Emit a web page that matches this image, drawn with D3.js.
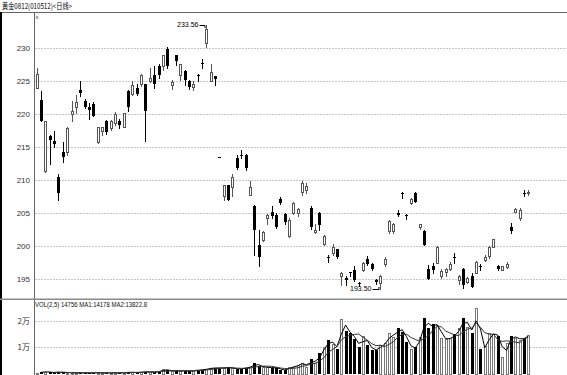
<!DOCTYPE html>
<html>
<head>
<meta charset="utf-8">
<script src="https://cdn.jsdelivr.net/npm/d3@7"></script>
<style>
  body { margin: 0; background: #fff; }
  svg { display: block; }
  text { font-family: "Liberation Sans", Arial, sans-serif; }
</style>
</head>
<body>
<div id="chart"></div>
<script>
const title = '黄金0812(010512)<日线>';
const volTitle = 'VOL(2,5) 14756 MA1:14178 MA2:13822.8';

const opens = [
  224.0, 222.1, 211.3, 216.6, 215.9, 210.5, 214.2, 214.2, 220.0, 221.0,
  223.6, 221.9, 221.0, 221.5, 215.8, 217.4, 219.0, 217.9, 218.6, 218.9,
  218.1, 223.5, 223.0, 224.0, 224.6, 224.5, 225.0, 225.9, 227.3, 227.2,
  229.9, 224.4, 228.9, 225.9, 226.5, 225.0, 224.1, 225.9, 227.7, 230.7,
  225.0, 225.7, 213.5, 207.5, 209.2, 209.0, 213.4, 213.8, 213.8, 207.8,
  206.0, 200.2, 200.9, 204.2, 205.2, 204.7, 207.1, 204.8, 201.5, 205.0,
  205.0, 208.2, 208.5, 205.7, 202.1, 205.0, 200.3, 198.4, 198.9, 199.5,
  195.5, 195.1, 196.0, 196.4, 194.4, 196.4, 198.1, 197.3, 194.8, 194.4,
  197.3, 202.2, 202.3, 205.0, 208.1, 204.7, 206.5, 208.1, 202.9, 202.3,
  196.5, 197.0, 197.5, 195.4, 196.0, 196.5, 198.3, 194.8, 196.5, 194.6,
  195.5, 195.9, 197.0, 197.9, 198.5, 199.9, 197.0, 196.4, 196.8, 202.9,
  205.2, 204.2, 208.0, 208.1
];
const closes = [
  226.1, 218.9, 218.9, 216.1, 215.5, 208.0, 213.5, 217.9, 220.4, 221.8,
  223.2, 221.0, 220.6, 219.7, 218.0, 218.0, 217.2, 219.0, 220.0, 218.3,
  220.1, 221.1, 224.4, 223.0, 225.9, 220.5, 225.4, 224.6, 225.9, 228.9,
  227.2, 224.9, 228.0, 227.5, 225.1, 224.1, 224.6, 225.7, 227.7, 232.9,
  226.4, 225.3, 213.5, 209.2, 207.0, 210.5, 211.8, 213.8, 211.8, 209.0,
  202.4, 198.4, 202.1, 204.7, 204.5, 202.9, 206.5, 203.7, 204.0, 206.5,
  205.6, 209.5, 209.1, 202.9, 202.5, 203.2, 201.5, 198.2, 199.8, 198.3,
  195.9, 194.8, 195.9, 194.8, 194.2, 197.4, 197.2, 196.5, 194.5, 195.5,
  198.0, 203.8, 203.3, 204.7, 208.0, 204.7, 207.1, 206.7, 203.3, 200.2,
  195.0, 196.3, 199.9, 196.2, 196.5, 197.2, 198.3, 195.5, 194.1, 195.2,
  193.8, 197.6, 197.0, 198.4, 199.9, 201.0, 196.5, 196.9, 197.2, 202.3,
  205.6, 205.5, 208.0, 208.2
];
const highs = [
  226.9, 223.5, 218.9, 216.8, 217.4, 210.9, 215.8, 218.0, 221.9, 222.9,
  225.0, 222.3, 221.6, 221.8, 218.0, 218.1, 219.1, 219.1, 220.3, 219.2,
  220.2, 223.6, 225.0, 224.5, 226.0, 224.6, 226.9, 227.2, 227.6, 229.0,
  230.2, 225.2, 229.0, 227.6, 226.7, 225.2, 225.0, 226.0, 228.3, 233.56,
  227.5, 225.8, 213.5, 209.3, 209.3, 210.9, 213.8, 214.5, 213.9, 209.8,
  206.2, 202.4, 202.2, 204.9, 206.0, 205.0, 207.4, 205.0, 204.3, 206.7,
  205.7, 209.9, 209.5, 206.0, 203.3, 205.1, 201.6, 198.7, 200.3, 199.6,
  196.1, 195.5, 196.1, 196.9, 194.5, 197.6, 198.5, 197.4, 195.0, 195.6,
  198.3, 204.0, 203.5, 205.5, 208.2, 204.9, 207.2, 208.2, 203.4, 202.4,
  197.1, 197.5, 200.0, 196.5, 196.6, 197.6, 198.9, 195.6, 196.7, 195.3,
  195.9, 197.7, 197.3, 198.7, 200.0, 201.1, 197.1, 197.0, 197.6, 203.5,
  205.8, 205.8, 208.5, 208.5
];
const lows = [
  223.9, 218.9, 211.2, 212.4, 215.0, 206.9, 212.8, 213.8, 219.0, 220.2,
  222.8, 220.9, 219.2, 219.7, 215.6, 216.8, 216.9, 217.6, 218.3, 217.9,
  218.1, 220.5, 222.9, 222.9, 224.2, 215.9, 224.9, 224.0, 225.5, 226.7,
  227.0, 223.8, 227.4, 225.1, 224.4, 223.8, 223.7, 225.0, 227.0, 230.2,
  225.0, 224.4, 213.5, 207.0, 207.0, 207.5, 211.6, 213.3, 211.5, 207.8,
  198.6, 196.9, 200.8, 203.4, 204.3, 202.7, 206.3, 203.3, 201.4, 204.8,
  204.5, 207.7, 208.0, 202.6, 202.0, 202.4, 200.2, 197.6, 198.6, 198.2,
  194.1, 194.1, 195.4, 194.7, 193.9, 196.2, 197.1, 196.4, 194.2, 193.5,
  196.9, 201.9, 202.0, 204.6, 207.2, 204.1, 206.4, 206.6, 202.6, 200.1,
  195.0, 195.9, 197.5, 195.2, 195.4, 196.3, 197.5, 194.3, 193.7, 194.4,
  193.8, 195.9, 196.4, 197.7, 198.2, 199.9, 196.4, 196.3, 196.7, 201.9,
  205.1, 204.0, 207.5, 207.8
];
const volumes = [
  500, 700, 900, 600, 500, 700, 600, 500, 400, 400,
  500, 400, 400, 500, 500, 400, 400, 400, 500, 400,
  500, 700, 600, 600, 700, 900, 700, 800, 900, 1700,
  1400, 1100, 1200, 1100, 1200, 1100, 1300, 1500, 1600, 1900,
  2300, 2200, 2400, 2200, 2600, 2100, 1800, 2000, 2400, 2600,
  4000, 3000, 2600, 2500, 2300, 2400, 1500, 1500, 2500, 2750,
  3400, 4250, 2750, 5600, 4000, 8000, 10000, 12750, 11250, 9250,
  20500, 16250, 15250, 13000, 10000, 14250, 10900, 9000, 9000, 10900,
  11500, 15250, 14000, 17400, 15900, 12100, 9250, 10250, 14000, 20900,
  17100, 18750, 18400, 13400, 13100, 13400, 15000, 17100, 20900, 17750,
  15250, 24600, 9250, 10500, 15250, 14900, 14250, 6250, 11500, 14250,
  13600, 12900, 13600, 14756
];

const priceTicks = [195, 200, 205, 210, 215, 220, 225, 230];
const volTicks = [10000, 20000];
const volTickLabels = ['1万', '2万'];

const width = 567, height = 375;
const axisX = 34.5;

const svg = d3.select('#chart').append('svg')
  .attr('width', width)
  .attr('height', height);

svg.append('rect').attr('width', width).attr('height', height).attr('fill', '#fff');

const n = opens.length;
const idx = d3.range(n);

const x = d3.scaleLinear().domain([0, n - 1]).range([36.7, 528.3]);
const y = d3.scaleLinear().domain([195, 230]).range([279, 48]);
const yv = d3.scaleLinear().domain([0, 20000]).range([374, 320.7]);

const px = i => Math.round(x(i)) + 0.5;

// frame
svg.append('line').attr('x1', 0).attr('x2', width).attr('y1', 12.5).attr('y2', 12.5)
  .attr('stroke', '#666').attr('stroke-width', 1);
svg.append('rect').attr('x', 0).attr('y', 12).attr('width', 2).attr('height', height - 12)
  .attr('fill', '#000');
svg.append('line').attr('x1', axisX).attr('x2', axisX).attr('y1', 12.5).attr('y2', height)
  .attr('stroke', '#666');
svg.append('rect').attr('x', 0).attr('y', 298.5).attr('width', width).attr('height', 1.5)
  .attr('fill', '#8a8a8a');

svg.append('text')
  .attr('x', 2).attr('y', 9)
  .attr('font-size', 8)
  .attr('textLength', 70).attr('lengthAdjust', 'spacingAndGlyphs')
  .attr('fill', '#000')
  .style('font-family', '"Noto Sans CJK SC", sans-serif')
  .text(title);

svg.append('text')
  .attr('x', 35.5).attr('y', 18.5)
  .attr('font-size', 6).attr('fill', '#333')
  .text('x');

// price grid + ticks
let grid = svg.append('g');
priceTicks.forEach(t => {
  grid.append('line')
    .attr('x1', axisX + 1).attr('x2', width)
    .attr('y1', Math.round(y(t)) + 0.5).attr('y2', Math.round(y(t)) + 0.5)
    .attr('stroke', '#8c8c8c').attr('stroke-dasharray', '1,2');
  grid.append('text')
    .attr('x', 30).attr('y', y(t) + 3)
    .attr('text-anchor', 'end').attr('font-size', 8).attr('fill', '#333')
    .text(t);
});

volTicks.forEach((t, i) => {
  grid.append('line')
    .attr('x1', axisX + 1).attr('x2', width)
    .attr('y1', Math.round(yv(t)) + 0.5).attr('y2', Math.round(yv(t)) + 0.5)
    .attr('stroke', '#8c8c8c').attr('stroke-dasharray', '1,2');
  grid.append('text')
    .attr('x', 30).attr('y', yv(t) + 3)
    .attr('text-anchor', 'end').attr('font-size', 8).attr('fill', '#333')
    .style('font-family', '"Noto Sans CJK SC", sans-serif')
    .text(volTickLabels[i]);
});

svg.append('text')
  .attr('x', 35).attr('y', 307)
  .attr('font-size', 6.5).attr('fill', '#111')
  .attr('textLength', 112).attr('lengthAdjust', 'spacingAndGlyphs')
  .text(volTitle);

// candles
const up = i => closes[i] > opens[i];
const doji = i => closes[i] === opens[i];

let candles = svg.append('g').attr('shape-rendering', 'crispEdges');

candles.selectAll('line.wick').data(idx).enter().append('line')
  .attr('x1', px).attr('x2', px)
  .attr('y1', i => Math.round(y(highs[i])))
  .attr('y2', i => Math.round(y(lows[i])) + 1)
  .attr('stroke', i => up(i) ? '#555' : '#000');

candles.selectAll('rect.body').data(idx).enter().append('rect')
  .attr('x', i => up(i) ? px(i) - 1 : px(i) - 1.5)
  .attr('y', i => up(i) ? Math.round(y(closes[i])) + 0.5 : Math.round(y(Math.max(opens[i], closes[i]))))
  .attr('width', i => up(i) ? 2 : 3)
  .attr('height', i => {
    let h = Math.round(y(Math.min(opens[i], closes[i]))) - Math.round(y(Math.max(opens[i], closes[i])));
    return up(i) ? Math.max(h, 1) : Math.max(h, 1);
  })
  .attr('fill', i => up(i) ? '#fff' : '#000')
  .attr('stroke', i => up(i) ? '#555' : 'none');

// high / low marks
const iMax = d3.maxIndex(highs);
const iMin = d3.minIndex(lows);

const hy = y(highs[iMax]);
svg.append('text')
  .attr('x', px(iMax) - 8).attr('y', hy + 2.5)
  .attr('text-anchor', 'end').attr('font-size', 7).attr('fill', '#000')
  .text(highs[iMax].toFixed(2));
svg.append('path')
  .attr('d', `M${px(iMax) - 7},${Math.round(hy) + 0.5}H${px(iMax) - 1.5}V${Math.round(hy) + 3}`)
  .attr('fill', 'none').attr('stroke', '#000');

const ly = y(lows[iMin]);
svg.append('text')
  .attr('x', px(iMin) - 9).attr('y', ly + 2.5)
  .attr('text-anchor', 'end').attr('font-size', 7).attr('fill', '#000')
  .text(lows[iMin].toFixed(2));
svg.append('path')
  .attr('d', `M${px(iMin) - 8},${Math.round(ly) + 0.5}H${px(iMin) - 1.5}V${Math.round(ly) - 2}`)
  .attr('fill', 'none').attr('stroke', '#000');

// volume bars
let vol = svg.append('g').attr('shape-rendering', 'crispEdges');
vol.selectAll('rect').data(idx).enter().append('rect')
  .attr('x', i => up(i) ? px(i) - 1 : px(i) - 1.5)
  .attr('y', i => Math.round(yv(volumes[i])) + (up(i) ? 0.5 : 0))
  .attr('width', i => up(i) ? 2 : 3)
  .attr('height', i => Math.max(374 - Math.round(yv(volumes[i])), 1))
  .attr('fill', i => up(i) ? '#fff' : '#000')
  .attr('stroke', i => up(i) ? '#777' : 'none');

// moving averages of volume
const ma = k => idx.map(i => i < k - 1 ? null : d3.mean(volumes.slice(i - k + 1, i + 1)));
const ma1 = ma(2), ma2 = ma(5);

const line = d3.line()
  .defined(d => d.v !== null)
  .x(d => x(d.i))
  .y(d => yv(d.v));

svg.append('path')
  .datum(ma1.map((v, i) => ({i, v})))
  .attr('d', line).attr('fill', 'none').attr('stroke', '#000').attr('stroke-width', 1);
svg.append('path')
  .datum(ma2.map((v, i) => ({i, v})))
  .attr('d', line).attr('fill', 'none').attr('stroke', '#333').attr('stroke-width', 1);
</script>
</body>
</html>
